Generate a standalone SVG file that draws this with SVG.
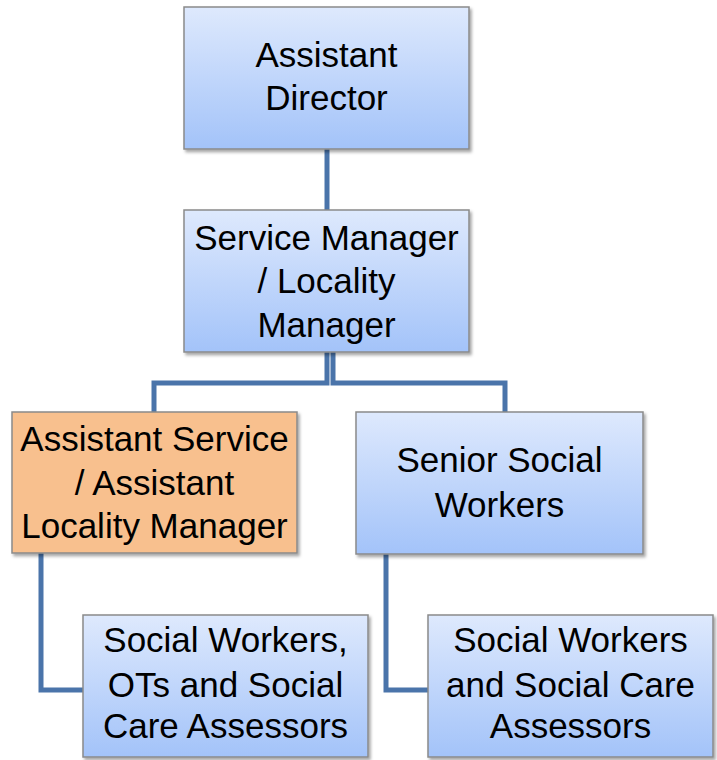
<svg xmlns="http://www.w3.org/2000/svg" width="717" height="760" viewBox="0 0 717 760">
<defs>
<linearGradient id="blue" x1="0" y1="0" x2="0" y2="1">
<stop offset="0" stop-color="#dee9fd"/>
<stop offset="1" stop-color="#a3c3f9"/>
</linearGradient>
<filter id="sh" x="-5%" y="-5%" width="112%" height="115%">
<feDropShadow dx="2" dy="2.5" stdDeviation="1.5" flood-color="#000" flood-opacity="0.35"/>
</filter>
<style>
.box{stroke:#8a8a8a;stroke-width:1.5;filter:url(#sh)}
.b{fill:url(#blue)}
.o{fill:#f8c08e}
.t{font-family:"Liberation Sans",Arial,sans-serif;font-size:35px;fill:#000;text-anchor:middle}
.c{fill:none;stroke:#4a74aa;stroke-width:5}
</style>
</defs>
<g id="connectors">
<path class="c" d="M327,149 V210"/>
<path class="c" d="M327,352 V383 H154 V412"/>
<path class="c" d="M333,352 V383 H505 V412"/>
<path class="c" d="M41,553 V690 H83"/>
<path class="c" d="M386,554 V690 H428"/>
</g>
<g id="assistant-director">
<rect class="box b" x="184" y="7" width="285" height="142"/>
<text class="t" x="326.5" y="67">Assistant</text>
<text class="t" x="326.5" y="110">Director</text>
</g>
<g id="service-manager">
<rect class="box b" x="184" y="210" width="285" height="142"/>
<text class="t" x="326.5" y="250">Service Manager</text>
<text class="t" x="326.5" y="293">/ Locality</text>
<text class="t" x="326.5" y="337">Manager</text>
</g>
<g id="assistant-service">
<rect class="box o" x="12" y="412" width="285" height="141"/>
<text class="t" x="154.5" y="451">Assistant Service</text>
<text class="t" x="154.5" y="495">/ Assistant</text>
<text class="t" x="154.5" y="538">Locality Manager</text>
</g>
<g id="senior-social-workers">
<rect class="box b" x="356" y="412" width="287" height="142"/>
<text class="t" x="499.5" y="472">Senior Social</text>
<text class="t" x="499.5" y="517">Workers</text>
</g>
<g id="social-workers-ots">
<rect class="box b" x="83" y="615" width="285" height="142"/>
<text class="t" x="225.5" y="652">Social Workers,</text>
<text class="t" x="225.5" y="697">OTs and Social</text>
<text class="t" x="225.5" y="738">Care Assessors</text>
</g>
<g id="social-workers-care">
<rect class="box b" x="428" y="615" width="285" height="142"/>
<text class="t" x="570.5" y="652">Social Workers</text>
<text class="t" x="570.5" y="697">and Social Care</text>
<text class="t" x="570.5" y="738">Assessors</text>
</g>
</svg>
